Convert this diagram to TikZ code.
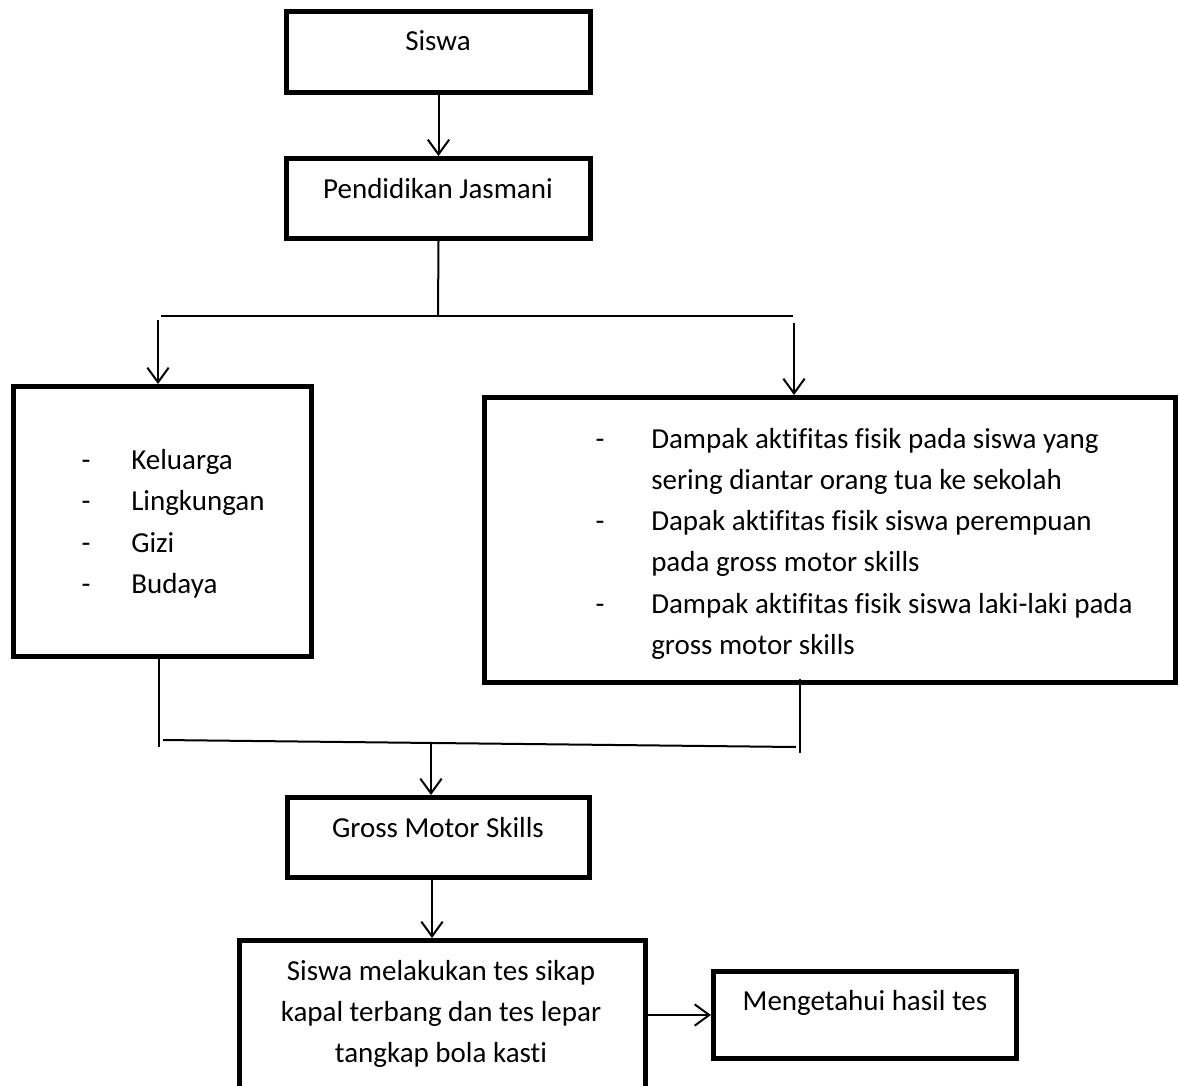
\documentclass[tikz,border=0pt]{standalone}
\usepackage{fontspec}
\setmainfont{Carlito}[Ligatures=CommonOff]
\usetikzlibrary{fit,arrows.meta}
\begin{document}
\begin{tikzpicture}[x=0.75pt,y=-0.75pt,
  box/.style={draw,line width=3.75pt,inner sep=0pt,rectangle},
  txt/.style={inner sep=0pt,font=\fontsize{21.75pt}{31pt}\selectfont},
  conn/.style={line width=1.5pt},
  arr/.style={line width=1.5pt,-{Straight Barb[length=11pt,width=16pt]}}]
\useasboundingbox (0,0) rectangle (1179,1086);
% boxes
\node[box,fit={(286.5,11.5) (590.5,92.5)}] (siswa) {};
\node[box,fit={(286.5,158.5) (590.5,238.5)}] (pend) {};
\node[box,fit={(13.5,386.5) (311.5,656.5)}] (left) {};
\node[box,fit={(484.5,397.5) (1175.5,682.5)}] (right) {};
\node[box,fit={(287.5,797.5) (589.5,877.5)}] (gross) {};
\node[box,fit={(239.5,940.5) (645.5,1110)}] (bottom) {};
\node[box,fit={(713.5,971.5) (1016.5,1058.5)}] (know) {};
% texts
\node[txt,anchor=base] (tsiswa) at (438,50) {Siswa};
\node[txt,anchor=base] (tpend) at (438,198) {Pendidikan Jasmani};
\node[txt,anchor=base] (dl1) at (86,469) {-};
\node[txt,anchor=base] (dl2) at (86,510.5) {-};
\node[txt,anchor=base] (dl3) at (86,552) {-};
\node[txt,anchor=base] (dl4) at (86,593.5) {-};
\node[txt,anchor=base west] (l1) at (131,469) {Keluarga};
\node[txt,anchor=base west] (l2) at (131,510.5) {Lingkungan};
\node[txt,anchor=base west] (l3) at (131,552) {Gizi};
\node[txt,anchor=base west] (l4) at (131,593.5) {Budaya};
\node[txt,anchor=base] (dr1) at (600,448) {-};
\node[txt,anchor=base] (dr2) at (600,530.6) {-};
\node[txt,anchor=base] (dr3) at (600,613.2) {-};
\node[txt,anchor=base west] (r1) at (651,448) {Dampak aktifitas fisik pada siswa yang};
\node[txt,anchor=base west] (r1b) at (651,489.3) {sering diantar orang tua ke sekolah};
\node[txt,anchor=base west] (r2) at (651,530.6) {Dapak aktifitas fisik siswa perempuan};
\node[txt,anchor=base west] (r2b) at (651,571.9) {pada gross motor skills};
\node[txt,anchor=base west] (r3) at (651,613.2) {Dampak aktifitas fisik siswa laki-laki pada};
\node[txt,anchor=base west] (r3b) at (651,654.5) {gross motor skills};
\node[txt,anchor=base] (tgross) at (438,837) {Gross Motor Skills};
\node[txt,anchor=base] (tb1) at (441,980) {Siswa melakukan tes sikap};
\node[txt,anchor=base] (tb2) at (441,1021) {kapal terbang dan tes lepar};
\node[txt,anchor=base] (tb3) at (441,1062) {tangkap bola kasti};
\node[txt,anchor=base] (tknow) at (865,1010) {Mengetahui hasil tes};
% connector coordinates
\coordinate (j) at (438,316);
\coordinate (jl) at (161,316);
\coordinate (jr) at (793,316);
\coordinate (aL) at (158,320);
\coordinate (aR) at (794,323);
\coordinate (bL) at (159,747);
\coordinate (bR) at (800,679);
\coordinate (bR2) at (800,753);
\coordinate (hL) at (163,740);
\coordinate (hR) at (796,747);
\coordinate (m) at (431,744);
\coordinate (g2) at (432,0);
\coordinate (k) at (0,1015);
% connectors
\draw[arr] (siswa.south) -- (pend.north);
\draw[conn] (pend.south) -- (j);
\draw[conn] (jl) -- (jr);
\draw[arr] (aL) -- (aL |- left.north);
\draw[arr] (aR) -- (aR |- right.north);
\draw[conn] (left.south -| bL) -- (bL);
\draw[conn] (bR) -- (bR2);
\draw[conn] (hL) -- (hR);
\draw[arr] (m) -- (m |- gross.north);
\draw[arr] (gross.south -| g2) -- (bottom.north -| g2);
\draw[arr] (bottom.east |- k) -- (know.west |- k);
\end{tikzpicture}
\end{document}
